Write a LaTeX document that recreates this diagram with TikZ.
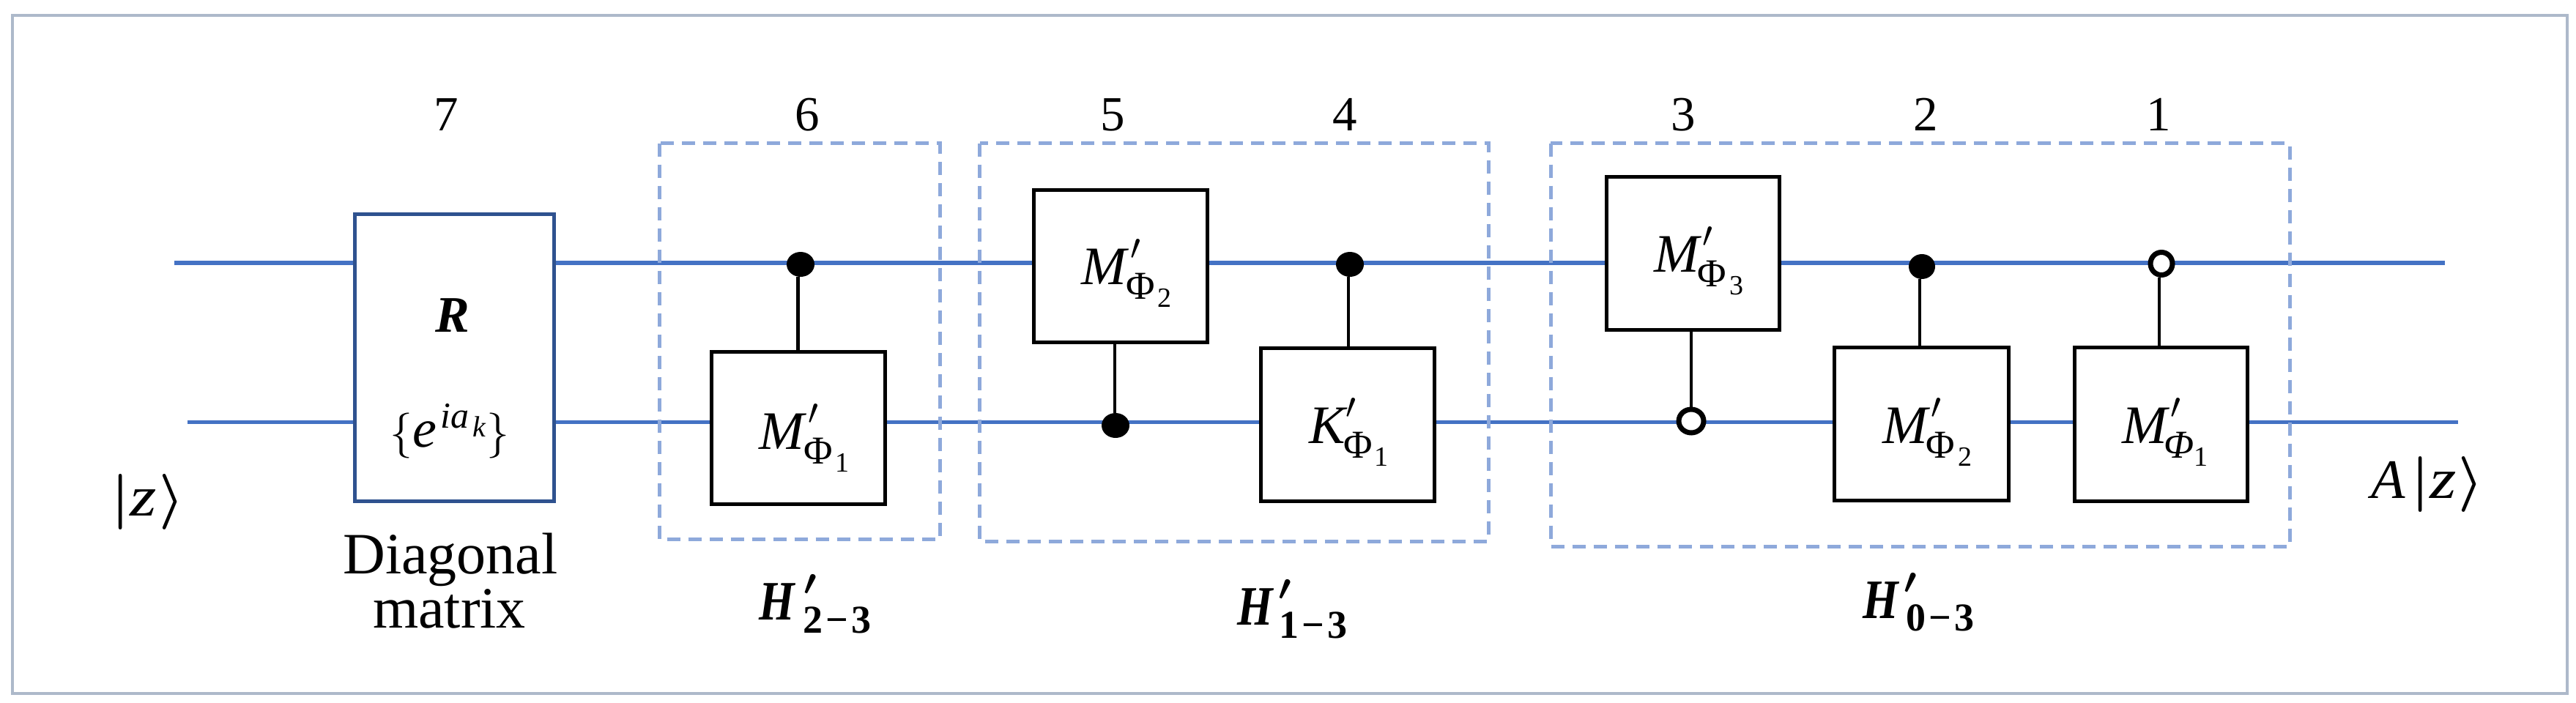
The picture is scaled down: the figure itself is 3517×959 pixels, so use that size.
\RequirePackage{fix-cm}
\documentclass[tikz,border=0pt]{standalone}
\usepackage{amsmath}
\usepackage{fontspec}
\usetikzlibrary{shapes.geometric}
\setmainfont{Liberation Serif}
\definecolor{wireblue}{HTML}{4472C4}
\definecolor{rblue}{HTML}{2F528F}
\definecolor{dashblue}{HTML}{8EA9DB}
\definecolor{framegrey}{HTML}{ADB9CA}
\newcommand{\txtsize}[1]{\fontsize{#1}{#1}\selectfont}
% place a piece of text at an offset (right, up) from the origin of a zero-width label
\newcommand{\Put}[3]{\rlap{\kern#1pt\raisebox{#2pt}{#3}}}
% letter, prime offset, Phi offset, digit offset, Phi shape, digit
\newcommand{\Mg}[6]{%
  \Put{0}{0}{\txtsize{74}\itshape #1}%
  \Put{#2}{34}{\txtsize{50}$\prime$}%
  \Put{#3}{-20}{\txtsize{54}#5Φ}%
  \Put{#4}{-31}{\txtsize{38}#6}}
% prime offset, subscript offset, subscript drop, subscript digits
\newcommand{\Hg}[5]{%
  \Put{0}{0}{\scalebox{.82}[1]{\txtsize{76}\bfseries\itshape H}}%
  \Put{#1}{34}{\txtsize{50}$\boldsymbol{\prime}$}%
  \Put{#2}{#3}{\txtsize{54}\bfseries #4\kern4pt−\kern4pt#5}}
% offset of bar, of z, of angle
\newcommand{\Ket}[3]{%
  \Put{#1}{0}{\txtsize{76}$\boldsymbol{|}$}%
  \Put{#2}{0}{\scalebox{1.2}[1]{\txtsize{78}\itshape z}}%
  \Put{#3}{0}{\txtsize{76}$\boldsymbol{\rangle}$}}
\tikzset{
  x=1pt,y=-1pt,
  wire/.style={draw=wireblue,line width=6pt},
  gatebox/.style={draw=black,fill=white,line width=5pt,inner sep=0pt},
  rbox/.style={draw=rblue,fill=white,line width=5pt,inner sep=0pt},
  group/.style={draw=dashblue,line width=5pt,dash pattern=on 18pt off 11pt},
  stem/.style={draw=black,line width=4.5pt},
  solid dot/.style={ellipse,fill=black,minimum width=38pt,minimum height=34pt,inner sep=0pt},
  open dot/.style={ellipse,fill=white,draw=black,line width=7pt,inner sep=0pt},
  number/.style={font=\txtsize{67},inner sep=0pt,anchor=base},
  textlabel/.style={inner sep=0pt,anchor=base west},
  wordlabel/.style={font=\txtsize{80},inner sep=0pt,anchor=base}
}
\begin{document}
\begin{tikzpicture}
\useasboundingbox (0,0) rectangle (3517,959);
\draw[draw=framegrey,line width=4pt] (17,21) rectangle (3505,947);
% wires
\coordinate (tin) at (238,359);
\coordinate (tout) at (3338,359);
\coordinate (bin) at (256,576.5);
\coordinate (bout) at (3356,576.5);
\draw[wire] (tin) -- (tout);
\draw[wire,line width=5pt] (bin) -- (bout);
% group frames
\draw[group] (900,195.5) rectangle (1283,736);
\draw[group] (1337.5,195.5) rectangle (2032,739);
\draw[group] (2117,195.5) rectangle (3126,746);
% R box
\node[rbox,minimum width=272pt,minimum height=392pt] (R) at (620,488) {};
\node[font=\txtsize{70},inner sep=0pt,anchor=base] (Rt) at (618,453) {\bfseries\itshape R};
\node[textlabel] (Rs) at (531.5,610) {%
  \Put{0}{0}{\txtsize{62}$\{$}%
  \Put{31.5}{0}{\txtsize{74}\itshape e}%
  \Put{69.5}{26}{\txtsize{50}\itshape ia}%
  \Put{113.5}{14}{\txtsize{40}\itshape k}%
  \Put{132}{0}{\txtsize{62}$\}$}};
% gates
\node[gatebox,minimum width=237pt,minimum height=207.5pt] (g6) at (1089.5,584.25) {};
\node[gatebox,minimum width=237pt,minimum height=208pt] (g5) at (1529.5,363) {};
\node[gatebox,minimum width=237pt,minimum height=209pt] (g4) at (1839.5,579.5) {};
\node[gatebox,minimum width=236pt,minimum height=209pt] (g3) at (2311,345.5) {};
\node[gatebox,minimum width=238pt,minimum height=209pt] (g2) at (2623,578.5) {};
\node[gatebox,minimum width=236pt,minimum height=210pt] (g1) at (2950,579) {};
% control dots
\node[solid dot] (d6) at (1093,361) {};
\node[solid dot] (d5) at (1523,581) {};
\node[solid dot] (d4) at (1843,361) {};
\node[open dot,minimum width=34pt,minimum height=32pt] (d3) at (2309,575) {};
\node[solid dot,minimum width=36pt] (d2) at (2624,364) {};
\node[open dot,minimum width=30pt,minimum height=31pt] (d1) at (2951,360) {};
% stems
\draw[stem] ([xshift=-3.5pt]d6.south) -- ([xshift=-3.5pt]d6.south |- g6.north);
\draw[stem] ([xshift=-1pt]d5.north) -- ([xshift=-1pt]d5.north |- g5.south);
\draw[stem] ([xshift=-2pt]d4.south) -- ([xshift=-2pt]d4.south |- g4.north);
\draw[stem] (d3.north) -- (d3.north |- g3.south);
\draw[stem] ([xshift=-3pt]d2.south) -- ([xshift=-3pt]d2.south |- g2.north);
\draw[stem] ([xshift=-3pt]d1.south) -- ([xshift=-3pt]d1.south |- g1.north);
% gate labels
\node[textlabel] (l6) at (1036,613) {\Mg{M}{67}{61}{104}{\upshape}{1}};
\node[textlabel] (l5) at (1476,388) {\Mg{M}{67}{61}{104}{\upshape}{2}};
\node[textlabel] (l4) at (1787,605.5) {\Mg{K}{50}{46.5}{89}{\upshape}{1}};
\node[textlabel] (l3) at (2258,371) {\Mg{M}{66}{59}{103}{\upshape}{3}};
\node[textlabel] (l2) at (2570,605.5) {\Mg{M}{66}{59}{103}{\upshape}{2}};
\node[textlabel] (l1) at (2897,605.5) {\Mg{M}{66}{57}{98}{\itshape}{1}};
% step numbers
\node[number] (n7) at (609,178) {7};
\node[number] (n6) at (1102,178) {6};
\node[number] (n5) at (1519,178) {5};
\node[number] (n4) at (1836,178) {4};
\node[number] (n3) at (2298,178) {3};
\node[number] (n2) at (2629,178) {2};
\node[number] (n1) at (2947,178) {1};
% other labels
\node[textlabel] (zin) at (151.5,704) {\Ket{0}{25.5}{65.5}};
\node[textlabel] (zout) at (3237,680) {\Put{0}{0}{\txtsize{76}\itshape A}\Ket{54.5}{80}{119}};
\node[wordlabel] (diag) at (615,783) {Diagonal};
\node[wordlabel] (matr) at (613.5,857) {matrix};
\node[textlabel] (h23) at (1036,846) {\Hg{61}{60}{-18}{2}{3}};
\node[textlabel] (h13) at (1689,853) {\Hg{56}{57}{-18.5}{1}{3}};
\node[textlabel] (h03) at (2543,844) {\Hg{56}{59}{-17}{0}{3}};
\end{tikzpicture}
\end{document}
